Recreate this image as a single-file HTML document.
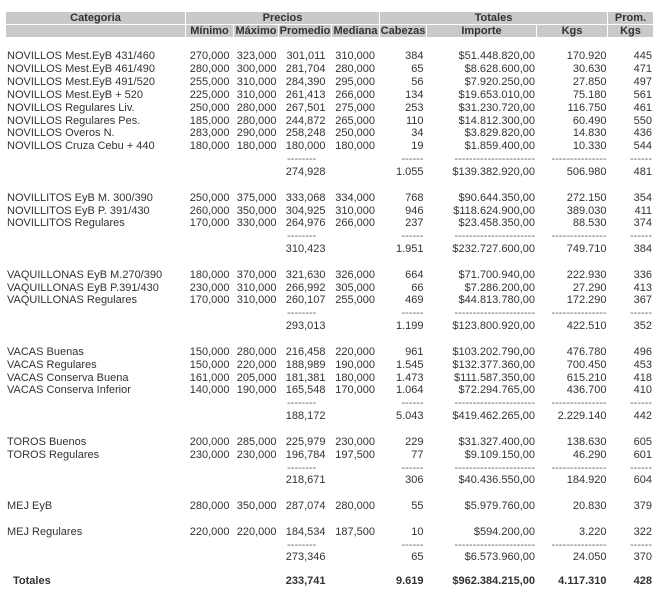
<!DOCTYPE html>
<html>
<head>
<meta charset="utf-8">
<style>
html,body{margin:0;padding:0;}
body{width:661px;height:596px;background:#fff;position:relative;overflow:hidden;font-family:"Liberation Sans",Arial,sans-serif;font-size:11px;color:#333;}
.h{position:absolute;background:#c9c9c9;height:12px;line-height:12px;text-align:center;font-weight:bold;color:#333;white-space:nowrap;overflow:hidden;}
.r{position:absolute;left:0;width:661px;height:13px;line-height:13px;white-space:nowrap;}
.r span{position:absolute;top:0;}
.a{left:7px;}
.mn{left:170px;width:59.5px;text-align:right;}
.mx{left:230px;width:46.5px;text-align:right;}
.pr{left:278px;width:47.5px;text-align:right;}
.md{left:326px;width:49px;text-align:right;}
.cb{left:376px;width:47.5px;text-align:right;}
.im{left:425px;width:110px;text-align:right;}
.kg{left:537px;width:69.5px;text-align:right;}
.pk{left:608px;width:44px;text-align:right;}
.pd{left:287px;color:#666;}
.d{color:#666;}
.b{font-weight:bold;}
.t{left:13px;font-weight:bold;}
</style>
</head>
<body>
<!-- header row 1 -->
<div class="h" style="left:6px;top:12px;width:179px;">Categoria</div>
<div class="h" style="left:186px;top:12px;width:193px;">Precios</div>
<div class="h" style="left:380px;top:12px;width:227px;">Totales</div>
<div class="h" style="left:608px;top:12px;width:45px;">Prom.</div>
<!-- header row 2 -->
<div class="h" style="left:6px;top:25px;width:179px;"></div>
<div class="h" style="left:186px;top:25px;width:47px;">Mínimo</div>
<div class="h" style="left:234px;top:25px;width:44px;">Máximo</div>
<div class="h" style="left:279px;top:25px;width:52px;">Promedio</div>
<div class="h" style="left:332px;top:25px;width:47px;">Mediana</div>
<div class="h" style="left:380px;top:25px;width:46px;">Cabezas</div>
<div class="h" style="left:427px;top:25px;width:109px;">Importe</div>
<div class="h" style="left:537px;top:25px;width:70px;">Kgs</div>
<div class="h" style="left:608px;top:25px;width:45px;">Kgs</div>

<!-- NOVILLOS -->
<div class="r" style="top:50.3px"><span class="a">NOVILLOS Mest.EyB 431/460</span><span class="mn">270,000</span><span class="mx">323,000</span><span class="pr">301,011</span><span class="md">310,000</span><span class="cb">384</span><span class="im">$51.448.820,00</span><span class="kg">170.920</span><span class="pk">445</span></div>
<div class="r" style="top:63.15px"><span class="a">NOVILLOS Mest.EyB 461/490</span><span class="mn">280,000</span><span class="mx">300,000</span><span class="pr">281,704</span><span class="md">280,000</span><span class="cb">65</span><span class="im">$8.628.600,00</span><span class="kg">30.630</span><span class="pk">471</span></div>
<div class="r" style="top:76px"><span class="a">NOVILLOS Mest.EyB 491/520</span><span class="mn">255,000</span><span class="mx">310,000</span><span class="pr">284,390</span><span class="md">295,000</span><span class="cb">56</span><span class="im">$7.920.250,00</span><span class="kg">27.850</span><span class="pk">497</span></div>
<div class="r" style="top:88.85px"><span class="a">NOVILLOS Mest.EyB + 520</span><span class="mn">225,000</span><span class="mx">310,000</span><span class="pr">261,413</span><span class="md">266,000</span><span class="cb">134</span><span class="im">$19.653.010,00</span><span class="kg">75.180</span><span class="pk">561</span></div>
<div class="r" style="top:101.7px"><span class="a">NOVILLOS Regulares Liv.</span><span class="mn">250,000</span><span class="mx">280,000</span><span class="pr">267,501</span><span class="md">275,000</span><span class="cb">253</span><span class="im">$31.230.720,00</span><span class="kg">116.750</span><span class="pk">461</span></div>
<div class="r" style="top:114.55px"><span class="a">NOVILLOS Regulares Pes.</span><span class="mn">185,000</span><span class="mx">280,000</span><span class="pr">244,872</span><span class="md">265,000</span><span class="cb">110</span><span class="im">$14.812.300,00</span><span class="kg">60.490</span><span class="pk">550</span></div>
<div class="r" style="top:127.4px"><span class="a">NOVILLOS Overos N.</span><span class="mn">283,000</span><span class="mx">290,000</span><span class="pr">258,248</span><span class="md">250,000</span><span class="cb">34</span><span class="im">$3.829.820,00</span><span class="kg">14.830</span><span class="pk">436</span></div>
<div class="r" style="top:140.25px"><span class="a">NOVILLOS Cruza Cebu + 440</span><span class="mn">180,000</span><span class="mx">180,000</span><span class="pr">180,000</span><span class="md">180,000</span><span class="cb">19</span><span class="im">$1.859.400,00</span><span class="kg">10.330</span><span class="pk">544</span></div>
<div class="r" style="top:153.1px"><span class="pd">--------</span><span class="cb d">------</span><span class="im d">----------------------</span><span class="kg d">---------------</span><span class="pk d">------</span></div>
<div class="r" style="top:165.95px"><span class="pr">274,928</span><span class="cb">1.055</span><span class="im">$139.382.920,00</span><span class="kg">506.980</span><span class="pk">481</span></div>

<!-- NOVILLITOS -->
<div class="r" style="top:191.65px"><span class="a">NOVILLITOS EyB M. 300/390</span><span class="mn">250,000</span><span class="mx">375,000</span><span class="pr">333,068</span><span class="md">334,000</span><span class="cb">768</span><span class="im">$90.644.350,00</span><span class="kg">272.150</span><span class="pk">354</span></div>
<div class="r" style="top:204.5px"><span class="a">NOVILLITOS EyB P. 391/430</span><span class="mn">260,000</span><span class="mx">350,000</span><span class="pr">304,925</span><span class="md">310,000</span><span class="cb">946</span><span class="im">$118.624.900,00</span><span class="kg">389.030</span><span class="pk">411</span></div>
<div class="r" style="top:217.35px"><span class="a">NOVILLITOS Regulares</span><span class="mn">170,000</span><span class="mx">330,000</span><span class="pr">264,976</span><span class="md">266,000</span><span class="cb">237</span><span class="im">$23.458.350,00</span><span class="kg">88.530</span><span class="pk">374</span></div>
<div class="r" style="top:230.2px"><span class="pd">--------</span><span class="cb d">------</span><span class="im d">----------------------</span><span class="kg d">---------------</span><span class="pk d">------</span></div>
<div class="r" style="top:243.05px"><span class="pr">310,423</span><span class="cb">1.951</span><span class="im">$232.727.600,00</span><span class="kg">749.710</span><span class="pk">384</span></div>

<!-- VAQUILLONAS -->
<div class="r" style="top:268.75px"><span class="a">VAQUILLONAS EyB M.270/390</span><span class="mn">180,000</span><span class="mx">370,000</span><span class="pr">321,630</span><span class="md">326,000</span><span class="cb">664</span><span class="im">$71.700.940,00</span><span class="kg">222.930</span><span class="pk">336</span></div>
<div class="r" style="top:281.6px"><span class="a">VAQUILLONAS EyB P.391/430</span><span class="mn">230,000</span><span class="mx">310,000</span><span class="pr">266,992</span><span class="md">305,000</span><span class="cb">66</span><span class="im">$7.286.200,00</span><span class="kg">27.290</span><span class="pk">413</span></div>
<div class="r" style="top:294.45px"><span class="a">VAQUILLONAS Regulares</span><span class="mn">170,000</span><span class="mx">310,000</span><span class="pr">260,107</span><span class="md">255,000</span><span class="cb">469</span><span class="im">$44.813.780,00</span><span class="kg">172.290</span><span class="pk">367</span></div>
<div class="r" style="top:307.3px"><span class="pd">--------</span><span class="cb d">------</span><span class="im d">----------------------</span><span class="kg d">---------------</span><span class="pk d">------</span></div>
<div class="r" style="top:320.15px"><span class="pr">293,013</span><span class="cb">1.199</span><span class="im">$123.800.920,00</span><span class="kg">422.510</span><span class="pk">352</span></div>

<!-- VACAS -->
<div class="r" style="top:345.85px"><span class="a">VACAS Buenas</span><span class="mn">150,000</span><span class="mx">280,000</span><span class="pr">216,458</span><span class="md">220,000</span><span class="cb">961</span><span class="im">$103.202.790,00</span><span class="kg">476.780</span><span class="pk">496</span></div>
<div class="r" style="top:358.7px"><span class="a">VACAS Regulares</span><span class="mn">150,000</span><span class="mx">220,000</span><span class="pr">188,989</span><span class="md">190,000</span><span class="cb">1.545</span><span class="im">$132.377.360,00</span><span class="kg">700.450</span><span class="pk">453</span></div>
<div class="r" style="top:371.55px"><span class="a">VACAS Conserva Buena</span><span class="mn">161,000</span><span class="mx">205,000</span><span class="pr">181,381</span><span class="md">180,000</span><span class="cb">1.473</span><span class="im">$111.587.350,00</span><span class="kg">615.210</span><span class="pk">418</span></div>
<div class="r" style="top:384.4px"><span class="a">VACAS Conserva Inferior</span><span class="mn">140,000</span><span class="mx">190,000</span><span class="pr">165,548</span><span class="md">170,000</span><span class="cb">1.064</span><span class="im">$72.294.765,00</span><span class="kg">436.700</span><span class="pk">410</span></div>
<div class="r" style="top:397.25px"><span class="pd">--------</span><span class="cb d">------</span><span class="im d">----------------------</span><span class="kg d">---------------</span><span class="pk d">------</span></div>
<div class="r" style="top:410.1px"><span class="pr">188,172</span><span class="cb">5.043</span><span class="im">$419.462.265,00</span><span class="kg">2.229.140</span><span class="pk">442</span></div>

<!-- TOROS -->
<div class="r" style="top:435.8px"><span class="a">TOROS Buenos</span><span class="mn">200,000</span><span class="mx">285,000</span><span class="pr">225,979</span><span class="md">230,000</span><span class="cb">229</span><span class="im">$31.327.400,00</span><span class="kg">138.630</span><span class="pk">605</span></div>
<div class="r" style="top:448.65px"><span class="a">TOROS Regulares</span><span class="mn">230,000</span><span class="mx">230,000</span><span class="pr">196,784</span><span class="md">197,500</span><span class="cb">77</span><span class="im">$9.109.150,00</span><span class="kg">46.290</span><span class="pk">601</span></div>
<div class="r" style="top:461.5px"><span class="pd">--------</span><span class="cb d">------</span><span class="im d">----------------------</span><span class="kg d">---------------</span><span class="pk d">------</span></div>
<div class="r" style="top:474.35px"><span class="pr">218,671</span><span class="cb">306</span><span class="im">$40.436.550,00</span><span class="kg">184.920</span><span class="pk">604</span></div>

<!-- MEJ -->
<div class="r" style="top:500.05px"><span class="a">MEJ EyB</span><span class="mn">280,000</span><span class="mx">350,000</span><span class="pr">287,074</span><span class="md">280,000</span><span class="cb">55</span><span class="im">$5.979.760,00</span><span class="kg">20.830</span><span class="pk">379</span></div>
<div class="r" style="top:525.75px"><span class="a">MEJ Regulares</span><span class="mn">220,000</span><span class="mx">220,000</span><span class="pr">184,534</span><span class="md">187,500</span><span class="cb">10</span><span class="im">$594.200,00</span><span class="kg">3.220</span><span class="pk">322</span></div>
<div class="r" style="top:538.6px"><span class="pd">--------</span><span class="cb d">------</span><span class="im d">----------------------</span><span class="kg d">---------------</span><span class="pk d">------</span></div>
<div class="r" style="top:551.45px"><span class="pr">273,346</span><span class="cb">65</span><span class="im">$6.573.960,00</span><span class="kg">24.050</span><span class="pk">370</span></div>

<!-- Totales -->
<div class="r" style="top:575.3px"><span class="t">Totales</span><span class="pr b">233,741</span><span class="cb b">9.619</span><span class="im b">$962.384.215,00</span><span class="kg b">4.117.310</span><span class="pk b">428</span></div>
</body>
</html>
